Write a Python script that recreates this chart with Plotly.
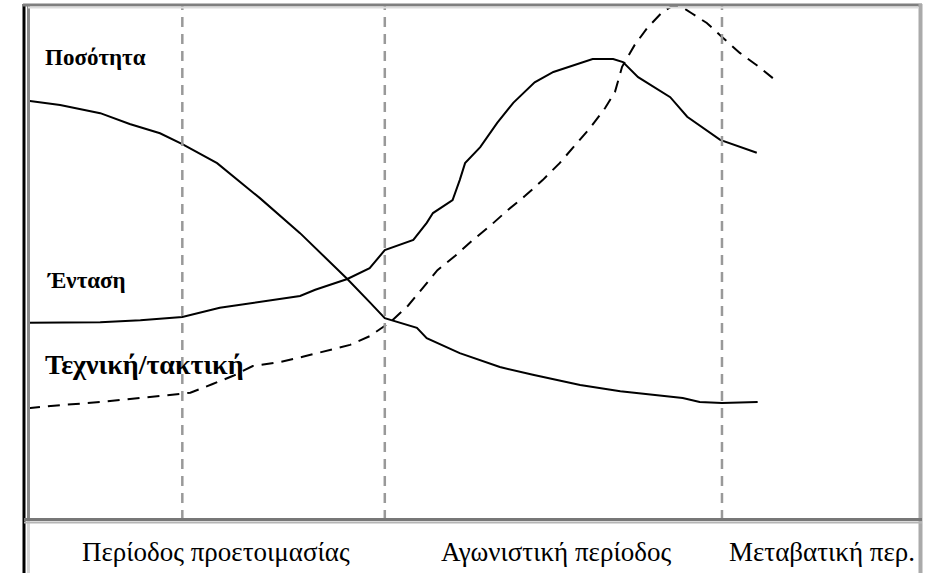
import plotly.graph_objects as go

# ---------------- data (arbitrary 0-100 time / load scale) ----------------
volume_x = [0, 3.6, 8.1, 11.4, 14.8, 17.3, 21.2, 26.0, 30.5, 33.9, 35.8, 38.3, 40.0,
            43.6, 44.7, 48.4, 52.9, 56.6, 61.9, 66.4, 73.4, 75.3, 77.8, 81.8]
volume_y = [81.4, 80.6, 79.0, 76.9, 75.1, 73.0, 69.3, 62.5, 55.7, 50.1, 46.8, 42.3, 39.2,
            37.3, 35.3, 32.4, 29.7, 28.2, 26.2, 25.0, 23.7, 22.9, 22.7, 22.9]

intensity_x = [0, 8.1, 12.6, 17.3, 21.5, 27.1, 30.5, 32.2, 35.8, 38.3, 40.0, 43.2, 44.7,
               45.4, 47.6, 48.4, 49.0, 50.7, 52.6, 54.4, 56.8, 58.9, 61.1, 63.3, 65.6,
               66.7, 68.4, 72.0, 73.9, 77.6, 81.7]
intensity_y = [38.3, 38.4, 38.8, 39.4, 41.2, 42.7, 43.5, 44.7, 46.8, 48.9, 52.4, 54.4, 57.7,
               59.6, 62.1, 66.0, 69.3, 72.4, 77.1, 81.0, 85.0, 87.0, 88.3, 89.5, 89.5,
               88.9, 86.0, 82.1, 78.3, 73.8, 71.3]

technique_x = [0, 3.6, 8.1, 13.7, 18.2, 20.7, 23.0, 25.2, 28.3, 30.8, 36.1, 38.3, 40.6,
               42.6, 44.2, 45.9, 47.9, 49.9, 51.8, 53.8, 55.7, 57.7, 59.6, 61.3, 63.0,
               64.7, 65.8, 66.6, 68.0, 69.4, 71.1, 72.2, 73.3, 74.4, 76.1, 77.8, 79.8,
               81.7, 83.5]
technique_y = [21.7, 22.3, 22.9, 23.9, 24.7, 26.4, 28.0, 29.9, 30.7, 31.7, 34.0, 35.7, 38.4,
               41.6, 45.0, 48.5, 51.3, 54.4, 57.1, 60.2, 62.9, 66.0, 69.3, 72.8, 76.1,
               80.0, 83.1, 88.0, 92.2, 95.5, 98.6, 99.8, 99.6, 98.4, 96.5, 93.8, 90.7,
               88.3, 85.8]

period_boundaries = [17.3, 40.0, 77.8]
period_labels = ["Περίοδος προετοιμασίας", "Αγωνιστική περίοδος", "Μεταβατική περ."]
period_label_x = [21.1, 59.2, 89.0]

series_labels = ["Ποσότητα", "Ένταση", "Τεχνική/τακτική"]
series_label_x = [1.7, 1.9, 1.7]
series_label_y = [89.9, 46.6, 30.1]

# ---------------- figure ----------------
W, H = 929, 573
fig = go.Figure()

fig.add_trace(go.Scatter(x=volume_x, y=volume_y, mode="lines",
                         line=dict(color="black", width=2), hoverinfo="skip"))
fig.add_trace(go.Scatter(x=intensity_x, y=intensity_y, mode="lines",
                         line=dict(color="black", width=2), hoverinfo="skip"))
fig.add_trace(go.Scatter(x=technique_x, y=technique_y, mode="lines",
                         line=dict(color="black", width=2, dash="12px,8px"), hoverinfo="skip"))

# period boundaries (vertical dashed lines)
for b in period_boundaries:
    fig.add_shape(type="line", xref="x", yref="paper", x0=b, x1=b,
                  y0=1 - 520 / H, y1=1 - 5 / H,
                  line=dict(color="#999999", width=2.5, dash="10px,7px"))

def px_x(p):
    return p / W

def px_y(p):
    return 1 - p / H

# frame
frame = [
    (24, 4, 24, 573, "black", 3),
    (28.5, 5, 28.5, 520, "#888888", 3),
    (28.5, 520, 28.5, 573, "#d6d6d6", 3),
    (23, 5, 922, 5, "#7f7f7f", 3),
    (28, 7.5, 918, 7.5, "#dcdcdc", 2),
    (920.5, 4, 920.5, 573, "#aaaaaa", 4),
    (24, 519.5, 922, 519.5, "#777777", 3),
    (24, 522.5, 922, 522.5, "#b5b5b5", 2),
]
for x0, y0, x1, y1, c, w in frame:
    fig.add_shape(type="line", xref="paper", yref="paper",
                  x0=px_x(x0), x1=px_x(x1), y0=px_y(y0), y1=px_y(y1),
                  line=dict(color=c, width=w))

# series labels
label_sizes = [23, 23, 28]
for t, x, y, s in zip(series_labels, series_label_x, series_label_y, label_sizes):
    fig.add_annotation(x=x, y=y, xref="x", yref="y", text="<b>" + t + "</b>",
                       showarrow=False, xanchor="left", yanchor="middle",
                       font=dict(family="Liberation Serif", size=s, color="black"))

# period labels
for t, x in zip(period_labels, period_label_x):
    fig.add_annotation(x=x, y=px_y(552), xref="x", yref="paper", text=t,
                       showarrow=False, xanchor="center", yanchor="middle",
                       font=dict(family="Liberation Serif", size=27, color="black"))

fig.update_layout(
    width=W, height=H,
    margin=dict(l=0, r=0, t=0, b=0),
    paper_bgcolor="white", plot_bgcolor="white",
    showlegend=False,
    xaxis=dict(domain=[28 / W, 920 / W], range=[0, 100], visible=False, fixedrange=True),
    yaxis=dict(domain=[1 - 520 / H, 1 - 5 / H], range=[0, 100], visible=False, fixedrange=True),
)

fig.write_html("out.html", config={"displayModeBar": False},
               post_script="document.body.style.margin='0';")
